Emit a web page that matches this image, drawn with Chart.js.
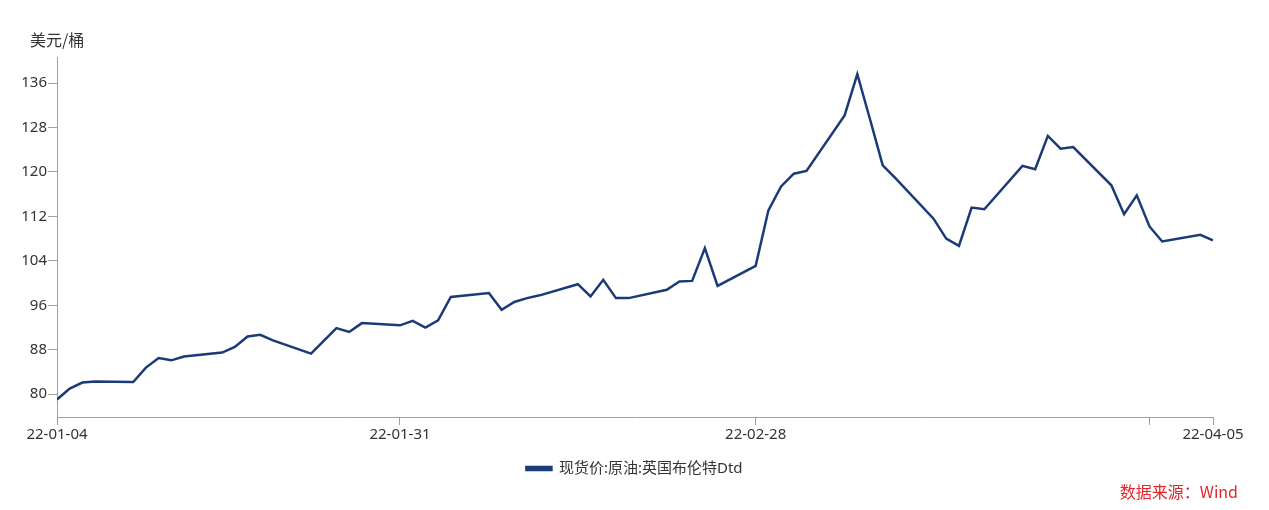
<!DOCTYPE html>
<html>
<head>
<meta charset="utf-8">
<script src="https://cdn.jsdelivr.net/npm/chart.js@4/dist/chart.umd.min.js"></script>
<style>
  html, body { margin: 0; padding: 0; background: #fff; }
  #wrap { position: relative; width: 1269px; height: 510px; }
  #unit { position: absolute; left: 30px; top: 27px; font: 16px "Noto Sans CJK SC", sans-serif; color: #333; }
  #source { position: absolute; right: 31px; top: 479px; font: 16px "Noto Sans CJK SC", sans-serif; color: #e0262b; }
</style>
</head>
<body>
<div id="wrap">
  <canvas id="chart" width="1269" height="510"></canvas>
  <div id="unit">美元/桶</div>
  <div id="source">数据来源：Wind</div>
</div>
<script>
const seriesName = '现货价:原油:英国布伦特Dtd';

const dates = [
  '2022-01-04','2022-01-05','2022-01-06','2022-01-07','2022-01-10','2022-01-11','2022-01-12','2022-01-13','2022-01-14',
  '2022-01-17','2022-01-18','2022-01-19','2022-01-20','2022-01-21','2022-01-24','2022-01-25','2022-01-26','2022-01-27',
  '2022-01-28','2022-01-31','2022-02-01','2022-02-02','2022-02-03','2022-02-04','2022-02-07','2022-02-08','2022-02-09',
  '2022-02-10','2022-02-11','2022-02-14','2022-02-15','2022-02-16','2022-02-17','2022-02-18','2022-02-21','2022-02-22',
  '2022-02-23','2022-02-24','2022-02-25','2022-02-28','2022-03-01','2022-03-02','2022-03-03','2022-03-04','2022-03-07',
  '2022-03-08','2022-03-09','2022-03-10','2022-03-11','2022-03-14','2022-03-15','2022-03-16','2022-03-17','2022-03-18',
  '2022-03-21','2022-03-22','2022-03-23','2022-03-24','2022-03-25','2022-03-28','2022-03-29','2022-03-30','2022-03-31',
  '2022-04-01','2022-04-04','2022-04-05'
];

const prices = [
  79.05, 81.0, 82.1, 82.3, 82.2, 84.8, 86.5, 86.1, 86.8,
  87.5, 88.5, 90.4, 90.7, 89.7, 87.3, 89.6, 91.9, 91.2,
  92.8, 92.4, 93.2, 92.0, 93.3, 97.5, 98.2, 95.2, 96.6,
  97.3, 97.8, 99.8, 97.6, 100.6, 97.3, 97.3, 98.8, 100.3,
  100.4, 106.3, 99.5, 103.1, 113.1, 117.4, 119.7, 120.2, 130.2,
  137.6, 129.5, 121.2, 118.9, 111.6, 108.0, 106.7, 113.6, 113.3,
  121.1, 120.5, 126.5, 124.2, 124.5, 117.6, 112.4, 115.8, 110.2,
  107.5, 108.7, 107.7
];

const tickDates = ['2022-01-04', '2022-01-31', '2022-02-28', '2022-03-31', '2022-04-05'];
const tickLabels = ['22-01-04', '22-01-31', '22-02-28', '', '22-04-05'];
const yTicks = [80, 88, 96, 104, 112, 120, 128, 136];

const day0 = Date.parse(dates[0] + 'T00:00:00Z');
function dayOf(d) {
  return Math.round((Date.parse(d + 'T00:00:00Z') - day0) / 86400000);
}

const points = dates.map((d, i) => ({ x: dayOf(d), y: prices[i] }));
const tickDays = tickDates.map(dayOf);

const navy = '#1b3a78';
const axisGray = '#a0a0a0';
const textColor = '#333';
const font = { family: '"Noto Sans", "Noto Sans CJK SC", sans-serif', size: 15 };

// the legend box only spans the plot width; stretch it so it centres on the canvas
const centreLegend = {
  id: 'centreLegend',
  beforeDraw(chart) {
    if (chart.legend) {
      chart.legend.left = 0;
      chart.legend.right = chart.width;
      chart.legend.width = chart.width;
    }
  }
};

new Chart(document.getElementById('chart'), {
  type: 'line',
  data: {
    datasets: [{
      label: seriesName,
      data: points,
      borderColor: navy,
      backgroundColor: navy,
      borderWidth: 2.5,
      pointRadius: 0,
      tension: 0,
      fill: false
    }]
  },
  plugins: [centreLegend],
  options: {
    responsive: false,
    animation: false,
    layout: { padding: { top: 57, right: 56, left: 0, bottom: 24 } },
    plugins: {
      tooltip: { enabled: false },
      legend: {
        position: 'bottom',
        labels: {
          boxWidth: 25,
          boxHeight: 3,
          color: textColor,
          font: font,
          padding: 10
        }
      }
    },
    scales: {
      x: {
        type: 'linear',
        min: 0,
        max: tickDays[tickDays.length - 1],
        afterBuildTicks: (scale) => { scale.ticks = tickDays.map(v => ({ value: v })); },
        afterFit: (scale) => { scale.height = 34; },
        ticks: {
          color: textColor,
          font: font,
          padding: 1,
          maxRotation: 0,
          autoSkip: false,
          callback: (v) => tickLabels[tickDays.indexOf(v)]
        },
        grid: { drawOnChartArea: false, drawTicks: true, tickLength: 8, color: axisGray },
        border: { color: axisGray, width: 1 }
      },
      y: {
        min: 75.9,
        max: 140.7,
        afterBuildTicks: (scale) => { scale.ticks = yTicks.map(v => ({ value: v })); },
        afterFit: (scale) => { scale.width = 57; },
        ticks: {
          color: textColor,
          font: font,
          padding: 1
        },
        grid: { drawOnChartArea: false, drawTicks: true, tickLength: 9, color: axisGray },
        border: { color: axisGray, width: 1 }
      }
    }
  }
});
</script>
</body>
</html>
